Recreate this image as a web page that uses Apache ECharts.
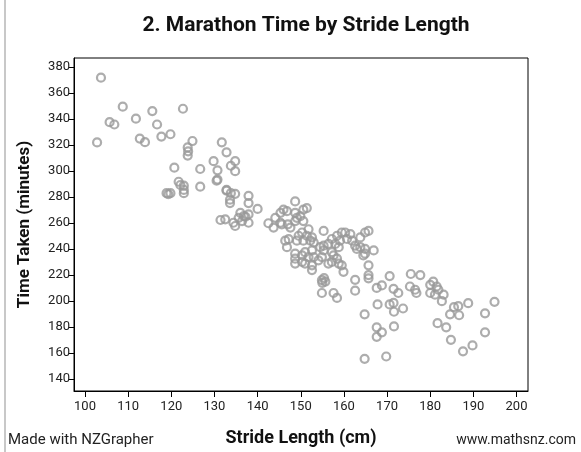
<!DOCTYPE html>
<html>
<head>
<meta charset="utf-8">
<script src="https://cdn.jsdelivr.net/npm/echarts@6/dist/echarts.min.js"></script>
<style>
html,body{margin:0;padding:0;background:#fff;}
#c{width:581px;height:452px;}
</style>
</head>
<body>
<div id="c"></div>
<script>
const titleText = "2. Marathon Time by Stride Length";
const xName = "Stride Length (cm)";
const yName = "Time Taken (minutes)";
const xTicks = [100,110,120,130,140,150,160,170,180,190,200];
const yTicks = [140,160,180,200,220,240,260,280,300,320,340,360,380];

const strideA = [103.7,108.75,115.6,122.7,111.8,105.7,106.8,116.7,102.8,112.7,113.9,117.7,119.8,124.9,123.8,123.9,123.8,131.7,132.8,134.8,134.8,133.8,129.8,130.7,130.7,130.5,120.7,126.7,126.7,121.7,122.1,122.9,122.9,122.9,118.9,119.8,119.3,132.8,132.8,133.8,134.8,133.6,133.6];
const timeA   = [371.7,349.4,346,347.8,340.2,337.5,335.7,335.7,321.9,324.9,322.1,326.4,328.2,323,318.1,315.1,311.8,322,314.3,307.5,299.8,304,307.5,300.5,293.4,292.5,302.5,301.5,287.9,291.7,289.2,288.7,285.4,282.9,282.9,282.9,282.2,285.4,284.9,282.9,282.4,277.9,275.3];

const strideB = [137.9,137.9,140.0,137.9,137.9,136.0,136.8,135.6,134.4,134.8,132.5,131.4,137.2,136.4];
const timeB   = [280.9,275.3,270.8,266.6,260.2,267.8,265.3,264.0,260.2,257.7,262.8,262.3,264.8,261.5];

const strideC = [148.7,146.0,145.3,144.1,142.5,143.7,145.6,146.8,148.7,150.6,151.4,149.9,150.6,148.7,147.6,147.0,149.1,145.3,151.8,150.3,149.5,151.4,152.6,153.0,152.2,150.6,149.1,147.2,146.4,146.8,155.3];
const timeC   = [276.6,270.3,267.8,264.0,259.8,256.5,259.0,269.1,267.8,270.3,271.5,265.3,261.5,261.5,256.5,259.0,264.0,260.2,255.2,252.7,250.2,250.2,248.9,245.1,246.4,246.4,246.4,247.6,246.4,241.4,253.9];

const strideD = [148.7,148.7,148.7,150.3,151.0,151.8,150.3,151.0,152.6,153.0,152.6,152.6,154.1,154.9,155.3,155.3,154.5,156.4,157.2,158.4,159.5,160.3,161.5,161.9,160.7,159.1,158.0,158.8,157.2,157.6,158.4,157.2,156.4,158.8,159.5,159.9,154.9,155.7,155.0,155.4,154.9,157.6,158.4];
const timeD   = [236.4,232.6,228.8,235.1,237.6,233.8,230.1,228.8,238.9,233.8,227.5,223.8,231.3,233.8,238.9,242.6,241.4,243.9,247.7,250.2,252.7,252.7,251.5,246.4,247.7,246.4,243.9,241.4,237.6,235.1,232.6,230.1,228.8,228.8,227.5,222.5,216.1,215.0,214.0,217.7,206.2,206.2,202.4];

const strideE = [163.8,164.9,165.7,162.6,163.0,163.8,164.9,164.9,166.9,164.5,165.7,165.7,165.7,162.6,162.6,167.6,168.8,167.8,164.8,167.6,168.8,167.6,164.8,169.8,170.6,171.5,172.6,170.6,171.5,171.6,173.7,171.6];
const timeE   = [248.9,252.7,253.9,242.6,240.1,241.4,240.1,236.4,238.9,235.1,227.5,220.0,217.5,216.3,208.0,210.1,212.0,197.4,189.8,179.8,176.0,172.5,155.6,157.4,219.2,209.4,206.2,197.4,198.6,191.8,194.3,180.5];

const strideF = [175.5,177.7,175.3,176.5,176.8,180.7,180.0,181.5,181.9,180.0,183.1,182.7,181.1,185.5,186.5,188.8,184.6,186.7,194.9,192.7,192.7,181.7,183.7,184.8,187.6,189.8];
const timeF   = [220.8,220.0,211.2,208.7,206.2,214.9,212.5,211.2,208.7,206.2,204.9,199.9,204.9,195.3,196.1,198.4,189.8,189.1,199.4,190.6,176.0,183.0,179.8,170.2,161.4,165.9];

const stride = [].concat(strideA, strideB, strideC, strideD, strideE, strideF);
const time = [].concat(timeA, timeB, timeC, timeD, timeE, timeF);
const points = stride.map((s, i) => [s, time[i]]);

const chart = echarts.init(document.getElementById('c'), null, {renderer: 'canvas'});
const font = 'Roboto, "Liberation Sans", sans-serif';
chart.setOption({
  animation: false,
  backgroundColor: '#fff',
  title: {
    text: titleText, left: 301, top: 10, textAlign: 'center',
    textStyle: {fontFamily: font, fontSize: 21, fontWeight: 'bold', color: '#111'}
  },
  grid: {left: 74, right: 53, top: 58, bottom: 55, show: true, borderColor: '#000', borderWidth: 1, backgroundColor: 'transparent'},
  xAxis: {
    type: 'value', min: 97.45, max: 202.66,
    name: xName, nameLocation: 'middle', nameGap: 38,
    nameTextStyle: {fontFamily: font, fontSize: 18, fontWeight: 'bold', color: '#111'},
    axisLine: {show: true, lineStyle: {color: '#000', width: 1}},
    axisTick: {show: true, inside: false, length: 6, customValues: xTicks, lineStyle: {color: '#000'}},
    axisLabel: {customValues: xTicks, fontFamily: font, fontSize: 13, color: '#222', margin: 9},
    splitLine: {show: false}
  },
  yAxis: {
    type: 'value', min: 130.9, max: 386.8,
    name: yName, nameLocation: 'middle', nameGap: 41,
    nameTextStyle: {fontFamily: font, fontSize: 17, fontWeight: 'bold', color: '#111'},
    axisLine: {show: true, lineStyle: {color: '#000', width: 1}},
    axisTick: {show: true, inside: false, length: 5, customValues: yTicks, lineStyle: {color: '#000'}},
    axisLabel: {customValues: yTicks, fontFamily: font, fontSize: 13, color: '#222', margin: 4},
    splitLine: {show: false}
  },
  graphic: [
    {type: 'rect', shape: {x: 4, y: 0, width: 2, height: 452}, style: {fill: '#c8c8c8'}},
    {type: 'text', left: 8, top: 433, style: {text: 'Made with NZGrapher', fontFamily: font, fontSize: 15, fill: '#222'}},
    {type: 'text', right: 5, top: 433, style: {text: 'www.mathsnz.com', fontFamily: font, fontSize: 14, fill: '#222'}}
  ],
  series: [{
    type: 'scatter',
    data: points,
    symbol: 'circle',
    symbolSize: 8,
    itemStyle: {color: 'rgba(255,255,255,0)', borderColor: '#999', borderWidth: 2.2}
  }]
});
</script>
</body>
</html>
